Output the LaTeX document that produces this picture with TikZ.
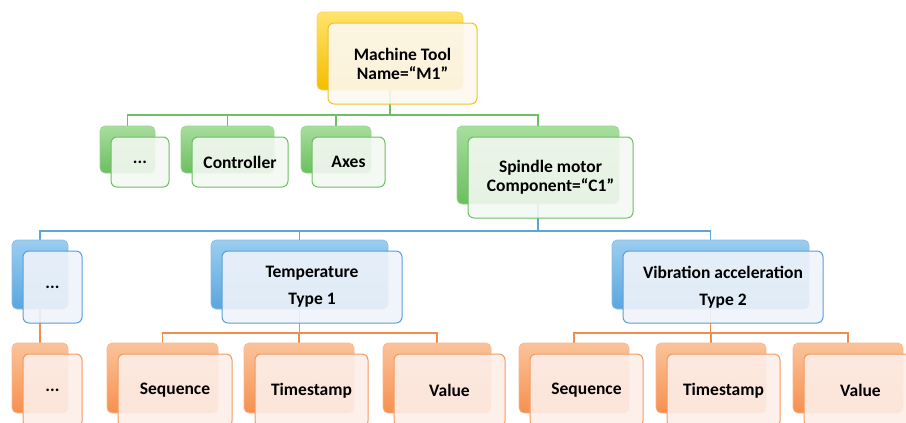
\documentclass[tikz,border=0pt]{standalone}
\usepackage{fontspec}
\setmainfont{Carlito}
\usetikzlibrary{backgrounds}

% palette: Light/Dark = shaded back card, Edge = outlines, Pale = front card, Line = links
\definecolor{ylwLight}{HTML}{FFE36B}\definecolor{ylwDark}{HTML}{F3BE00}
\definecolor{ylwEdge}{HTML}{F0C228}\definecolor{ylwPale}{HTML}{FCF8F0}
\definecolor{grnLight}{HTML}{A8DD9E}\definecolor{grnDark}{HTML}{6BBF5F}
\definecolor{grnEdge}{HTML}{6DBF63}\definecolor{grnPale}{HTML}{F3F8F2}
\definecolor{grnLine}{HTML}{6CBF62}
\definecolor{bluLight}{HTML}{9BCDF0}\definecolor{bluDark}{HTML}{5AA6DE}
\definecolor{bluEdge}{HTML}{5C9FD6}\definecolor{bluPale}{HTML}{EFF3FA}
\definecolor{bluLine}{HTML}{5BA5DC}
\definecolor{orgLight}{HTML}{FBC39B}\definecolor{orgDark}{HTML}{F6904F}
\definecolor{orgEdge}{HTML}{F39A5E}\definecolor{orgPale}{HTML}{FDEEE8}
\definecolor{orgLine}{HTML}{F28C4D}

\tikzset{
  backcard/.style={rounded corners=5pt, draw=#1Edge!70, line width=0.6pt,
    top color=#1Light, bottom color=#1Dark, inner sep=0pt, outer sep=0pt},
  frontcard/.style={rounded corners=6pt, draw=#1Edge, line width=1pt,
    fill=#1Pale, fill opacity=0.9, text opacity=1, inner sep=0pt, outer sep=0pt,
    align=center, font=\fontsize{17.5}{19}\selectfont\bfseries},
  link/.style={draw=#1Line, line width=1.1pt},
}

% \card{name}{palette}{x1}{y1}{x2}{y2}{text}: front card corners, back card offset up-left
\newcommand\card[7]{%
  \node[backcard=#2, minimum width={#5-#3-3}, minimum height={#6-#4-3}]
    (back#1) at ({(#3+#5)/2-12.5},{(#4+#6)/2-12.5}) {};
  \node[frontcard=#2, minimum width={#5-#3}, minimum height={#6-#4}]
    (#1) at ({(#3+#5)/2},{(#4+#6)/2}) {#7};
}

\begin{document}
\begin{tikzpicture}[x=1pt,y=-1pt]
  \useasboundingbox (0,0) rectangle (906,423);
  \clip (0,0) rectangle (906,423);

  % root
  \card{mt}{ylw}{328}{23}{477}{104}{Machine Tool\\Name=“M1”}
  % components
  \card{gdots}{grn}{111}{137}{169}{187}{...}
  \card{ctl}{grn}{192}{137}{288}{187}{Controller}
  \card{axes}{grn}{312}{137}{385}{187}{Axes}
  \card{sp}{grn}{468}{137}{633}{218}{Spindle motor\\Component=“C1”}
  % data items
  \card{bdots}{blu}{23}{251}{82}{323}{...}
  \card{temp}{blu}{222}{251}{402}{323}{Temperature\\[8pt]Type 1}
  \card{vib}{blu}{623}{251}{823}{323}{Vibration acceleration\\[8pt]Type 2}
  % fields
  \card{odots}{org}{23}{354}{82}{427}{...}
  \card{seqA}{org}{118}{354}{232}{427}{Sequence}
  \card{tsA}{org}{255}{354}{368}{427}{Timestamp}
  \card{valA}{org}{394}{354}{505}{427}{Value}
  \card{seqB}{org}{530}{354}{643}{427}{Sequence}
  \card{tsB}{org}{667}{354}{780}{427}{Timestamp}
  \card{valB}{org}{804}{354}{917}{427}{Value}

  \coordinate (gbus) at (0,115);
  \coordinate (bbus) at (0,231);
  \coordinate (obus) at (0,333);

  \begin{scope}[on background layer]
    \foreach \c in {gdots,ctl,axes,sp}
      \draw[link=grn] (backmt.center) |- (gbus -| back\c) -- (back\c.north);
    \foreach \c in {bdots,temp,vib}
      \draw[link=blu] (backsp.center) |- (bbus -| back\c) -- (back\c.north);
    \draw[link=org] (backbdots.center) -- (backodots.north);
    \foreach \c in {seqA,tsA,valA}
      \draw[link=org] (backtemp.center) |- (obus -| back\c) -- (back\c.north);
    \foreach \c in {seqB,tsB,valB}
      \draw[link=org] (backvib.center) |- (obus -| back\c) -- (back\c.north);
  \end{scope}
\end{tikzpicture}
\end{document}
